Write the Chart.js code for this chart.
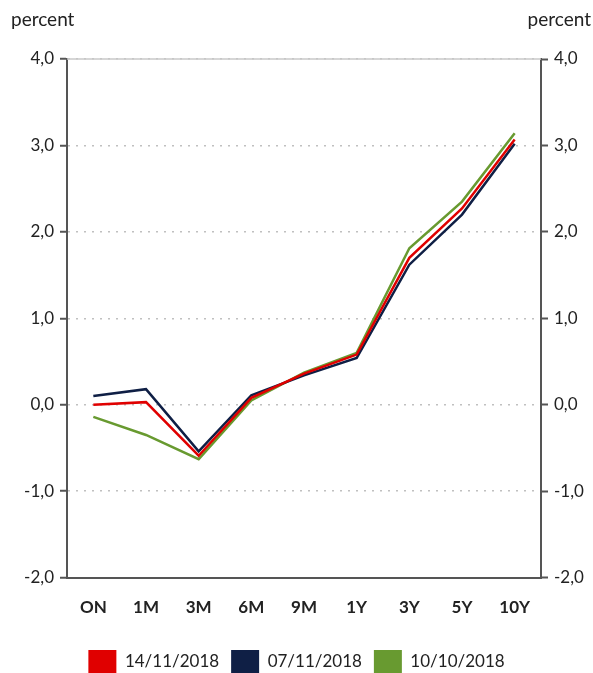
<!DOCTYPE html>
<html>
<head>
<meta charset="utf-8">
<script src="https://cdn.jsdelivr.net/npm/chart.js@4/dist/chart.umd.min.js"></script>
<style>
  html, body { margin: 0; padding: 0; background: #fff; }
  #wrap { width: 593px; height: 673px; position: relative; }
</style>
</head>
<body>
<div id="wrap"><canvas id="grafico"></canvas></div>
<script>
const scadenze = ['ON', '1M', '3M', '6M', '9M', '1Y', '3Y', '5Y', '10Y'];
const curva14nov = [0.00, 0.03, -0.59, 0.08, 0.36, 0.58, 1.70, 2.27, 3.07];
const curva07nov = [0.10, 0.18, -0.54, 0.11, 0.34, 0.54, 1.62, 2.20, 3.02];
const curva10ott = [-0.14, -0.35, -0.63, 0.05, 0.37, 0.60, 1.81, 2.35, 3.14];
const ticksY = [-2, -1, 0, 1, 2, 3, 4];

const FONT = 'Lato, "Open Sans", sans-serif';
const formatta = v => v.toFixed(1).replace('.', ',');

// scritte "percent" e bordo superiore
const extra = {
  id: 'extra',
  afterDraw(chart) {
    const ctx = chart.ctx;
    const a = chart.chartArea;
    ctx.save();
    ctx.strokeStyle = '#c8c8c8';
    ctx.lineWidth = 1.5;
    ctx.beginPath();
    ctx.moveTo(a.left, a.top);
    ctx.lineTo(a.right, a.top);
    ctx.stroke();
    ctx.fillStyle = '#222';
    ctx.font = '19px ' + FONT;
    ctx.textBaseline = 'middle';
    ctx.textAlign = 'left';
    ctx.fillText('percent', 11, 20);
    ctx.textAlign = 'right';
    ctx.fillText('percent', 591, 20);
    ctx.restore();
  }
};

const linea = (label, data, colore) => ({
  label, data,
  borderColor: colore,
  backgroundColor: colore,
  borderWidth: 2.5,
  pointRadius: 0,
  tension: 0,
  fill: false
});

new Chart(document.getElementById('grafico'), {
  type: 'line',
  data: {
    labels: scadenze,
    datasets: [
      linea('14/11/2018', curva14nov, '#e00000'),
      linea('07/11/2018', curva07nov, '#0f1f45'),
      linea('10/10/2018', curva10ott, '#689a30')
    ]
  },
  options: {
    responsive: true,
    maintainAspectRatio: false,
    animation: false,
    layout: { padding: { top: 59, bottom: -11 } },
    plugins: {
      legend: {
        position: 'bottom',
        labels: {
          boxWidth: 28, boxHeight: 24,
          padding: 12,
          color: '#222',
          font: { family: FONT, size: 17 },
          generateLabels: chart => chart.data.datasets.map((d, i) => ({
            text: d.label, fillStyle: d.borderColor, strokeStyle: d.borderColor,
            lineWidth: 0, datasetIndex: i, fontColor: '#222'
          }))
        }
      },
      tooltip: { enabled: false }
    },
    scales: {
      x: {
        offset: true,
        grid: { display: false, drawTicks: false },
        border: { display: true, color: '#555', width: 2 },
        ticks: { color: '#222', padding: 20, font: { family: FONT, size: 17, weight: 'bold' } }
      },
      y: {
        position: 'left',
        min: -2, max: 4,
        afterBuildTicks: s => { s.ticks = ticksY.map(v => ({ value: v })); },
        afterFit: s => { s.width = 67; },
        grid: { color: '#c0c0c0', lineWidth: 1.5, tickColor: '#555', tickWidth: 2, tickLength: 7 },
        border: { display: true, color: '#555', width: 2, dash: [2, 6] },
        ticks: { color: '#222', padding: 6, font: { family: FONT, size: 17 }, callback: v => formatta(v) }
      },
      y2: {
        position: 'right',
        min: -2, max: 4,
        afterBuildTicks: s => { s.ticks = ticksY.map(v => ({ value: v })); },
        afterFit: s => { s.width = 52; },
        grid: { drawOnChartArea: false, tickColor: '#555', tickWidth: 2, tickLength: 7 },
        border: { display: true, color: '#555', width: 2 },
        ticks: { color: '#222', padding: 6, font: { family: FONT, size: 17 }, callback: v => formatta(v) }
      }
    }
  },
  plugins: [extra]
});
</script>
</body>
</html>
